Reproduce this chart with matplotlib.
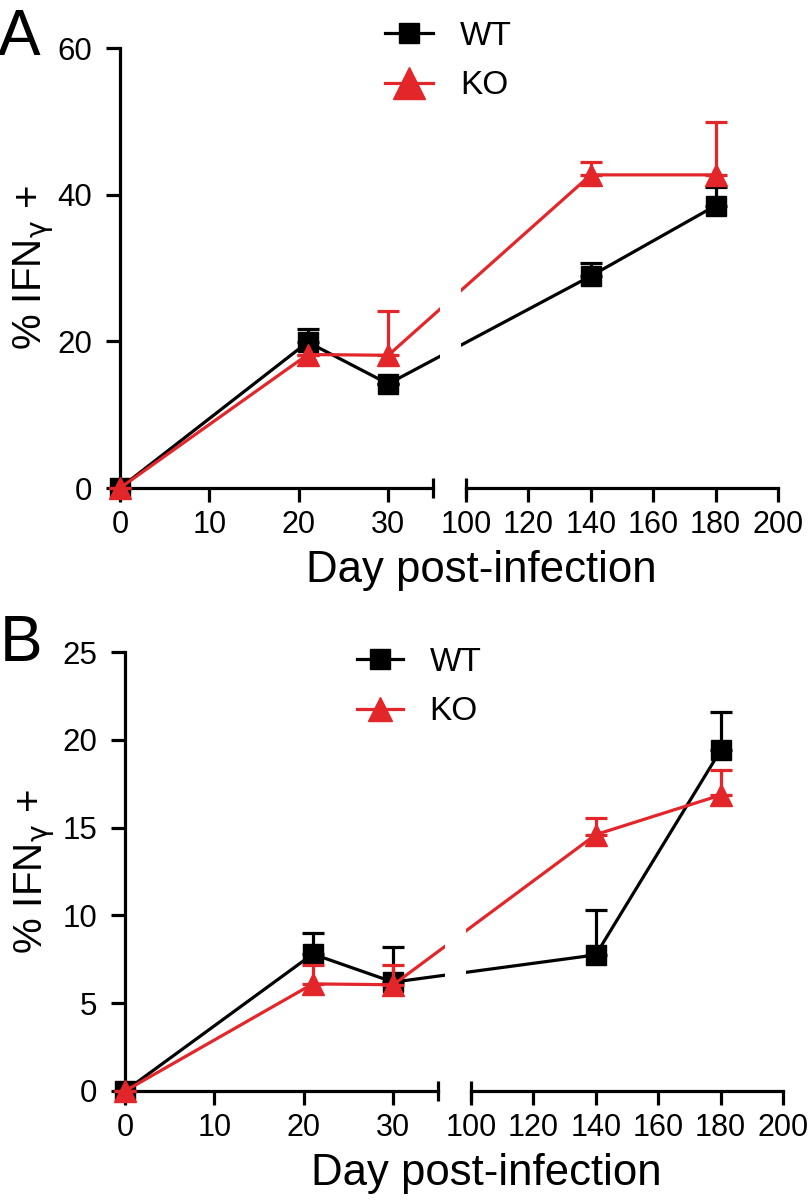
import numpy as np
import matplotlib
import matplotlib.pyplot as plt
from matplotlib.lines import Line2D

matplotlib.rc('font', family=['Liberation Sans', 'DejaVu Sans'])
matplotlib.rc('mathtext', fontset='custom', rm='Liberation Sans', it='DejaVu Sans')

# dados
days = [0, 21, 30, 140, 180]
wt_a = [0, 19.9, 14.2, 28.9, 38.5]
wt_a_err = [0, 1.8, 0, 1.8, 2.5]
ko_a = [0, 18.2, 18.1, 42.7, 42.7]
ko_a_err = [0, 0, 6.0, 1.7, 7.2]

wt_b = [0, 7.8, 6.2, 7.75, 19.4]
wt_b_err = [0, 1.2, 2.0, 2.55, 2.2]
ko_b = [0, 6.1, 6.05, 14.6, 16.85]
ko_b_err = [0, 1.1, 1.1, 0.95, 1.45]

left_ticks = [0, 10, 20, 30]
right_ticks = [100, 120, 140, 160, 180, 200]
yticks_a = [0, 20, 40, 60]
yticks_b = [0, 5, 10, 15, 20, 25]

# eixo x quebrado: 0-35 e 100-200
GAP = 3.69
K = 0.349


def fwd(x):
    x = np.asarray(x, dtype=float)
    mid = 35 + (x - 35) / 65.0 * GAP
    hi = 35 + GAP + (x - 100) * K
    return np.where(x <= 35, x, np.where(x >= 100, hi, mid))


def inv(u):
    u = np.asarray(u, dtype=float)
    mid = 35 + (u - 35) / GAP * 65.0
    hi = 100 + (u - 35 - GAP) / K
    return np.where(u <= 35, u, np.where(u >= 35 + GAP, hi, mid))


RED = '#e3262a'
LW = 2.3
W, H = 810, 1202


def panel(ax, wt, wt_err, ko, ko_err, yticks, leg_xy, leg_sq, leg_tri, leg_len, ylab_x):
    ax.set_xscale('function', functions=(fwd, inv))
    ax.set_xlim(0, 200)
    ax.set_ylim(0, yticks[-1])

    ax.errorbar(days, wt, yerr=[np.zeros(len(wt)), wt_err], color='black', lw=LW,
                marker='s', ms=14, elinewidth=LW, capsize=8, capthick=LW,
                clip_on=False, zorder=3)
    ax.errorbar(days, ko, yerr=[np.zeros(len(ko)), ko_err], color=RED, lw=LW,
                marker='^', ms=16, elinewidth=LW, capsize=8, capthick=LW,
                clip_on=False, zorder=4)
    # corte das linhas na quebra
    ax.axvspan(49, 90, color='white', zorder=5, lw=0)

    for s in ['top', 'right', 'bottom']:
        ax.spines[s].set_visible(False)
    ax.spines['left'].set_linewidth(LW)
    tr = ax.get_xaxis_transform()
    ax.plot([0, 35], [0, 0], color='black', lw=LW, transform=tr, clip_on=False, zorder=2)
    ax.plot([100, 200], [0, 0], color='black', lw=LW, transform=tr, clip_on=False, zorder=2)
    ax.plot([35, 100], [0, 0], ls='none', marker='|', ms=14, mew=LW, color='black',
            transform=tr, clip_on=False, zorder=2)

    ax.set_xticks(left_ticks + right_ticks)
    ax.set_xticklabels([str(t) for t in left_ticks + right_ticks], fontsize=22)
    ax.set_yticks(yticks)
    ax.set_yticklabels([str(t) for t in yticks], fontsize=22.5)
    ax.tick_params(width=LW, length=10, direction='out')
    ax.tick_params(axis='x', pad=6)
    ax.tick_params(axis='y', pad=10)
    ax.minorticks_off()

    ax.set_xlabel('Day post-infection', fontsize=31.5)
    ax.xaxis.set_label_coords(0.549, -0.142, transform=ax.transAxes)
    ax.xaxis.label.set_va('top')
    ax.set_ylabel('% IFN$_\\gamma$ +', fontsize=29)
    ax.yaxis.set_label_coords(ylab_x, 0.5, transform=ax.transAxes)

    handles = [Line2D([], [], color='black', lw=LW, marker='s', ms=leg_sq),
               Line2D([], [], color=RED, lw=LW, marker='^', ms=leg_tri)]
    ax.legend(handles, ['WT', 'KO'], loc='upper left',
              bbox_to_anchor=(leg_xy[0] / W, 1 - leg_xy[1] / H),
              bbox_transform=ax.figure.transFigure,
              frameon=False, fontsize=24, handlelength=leg_len, handletextpad=0.8,
              labelspacing=0.55, borderaxespad=0, borderpad=0)
    ax.set_facecolor('none')


fig = plt.figure(figsize=(W / 100, H / 100), dpi=100)
ax_a = fig.add_axes([120 / W, 1 - 488 / H, 658 / W, 440 / H])
ax_b = fig.add_axes([125 / W, 1 - 1091 / H, 658 / W, 439 / H])

panel(ax_a, wt_a, wt_a_err, ko_a, ko_a_err, yticks_a, (385, 21), 15, 23, 1.45, -0.098)
panel(ax_b, wt_b, wt_b_err, ko_b, ko_b_err, yticks_b, (357, 647), 14, 17, 1.38, -0.103)

fig.text(-2 / W, 1 - 8 / H, 'A', fontsize=46, va='top', ha='left')
fig.text(0.0, 1 - 614 / H, 'B', fontsize=46, va='top', ha='left')

plt.savefig('out.png', dpi=100)
